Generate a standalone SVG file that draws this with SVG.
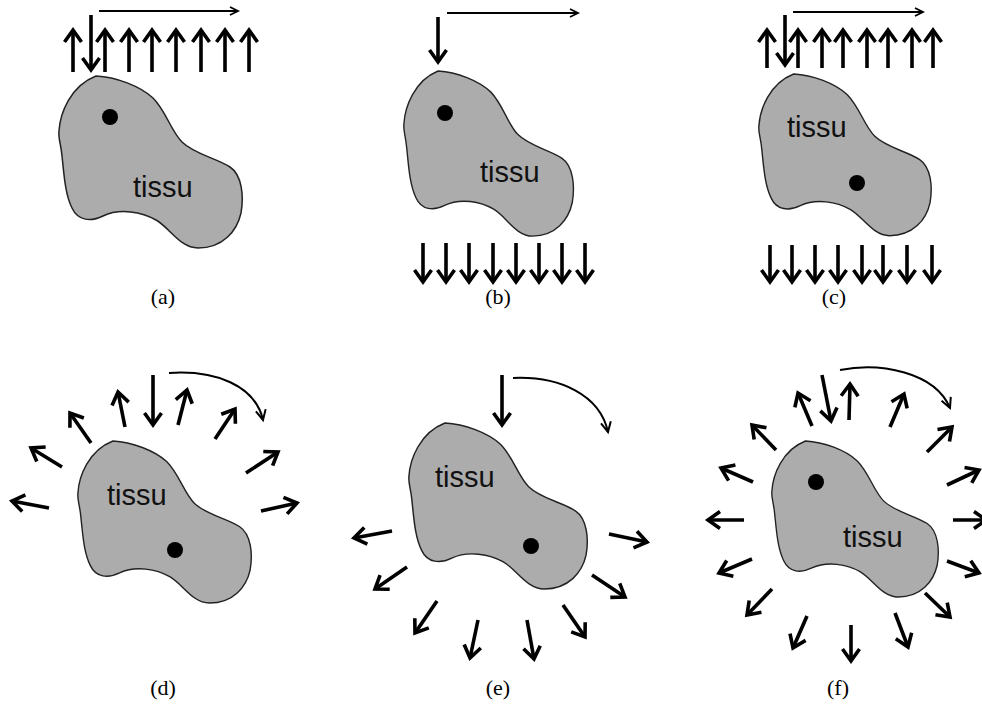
<svg xmlns="http://www.w3.org/2000/svg" width="982" height="713" viewBox="0 0 982 713">
  <style>
    .blob { fill: #acacac; stroke: #222; stroke-width: 1.5; }
    .dot { fill: #000; }
    .tissu { font-family: "Liberation Sans", Arial, sans-serif; font-size: 29px; fill: #111; }
    .lbl { font-family: "Liberation Serif", "Times New Roman", serif; font-size: 22px; fill: #000; text-anchor: middle; }
    .thick { stroke: #000; stroke-width: 3.6; fill: none; marker-end: url(#hd); }
    .thin { stroke: #000; stroke-width: 1.8; fill: none; marker-end: url(#hs); }
    .curve { stroke: #000; stroke-width: 2; fill: none; marker-end: url(#hc); }
  </style>
  <defs>
    <!-- tissue outline, shared by all six panels -->
    <path id="tissue" d="M38,0 C58,1 82,10 95,22 C108,35 113,55 124,66 C136,78 158,82 172,91 C184,99 186,120 183,137 C179,155 165,172 140,172 C122,172 112,152 98,144 C84,136 62,132 45,140 C33,146 20,145 14,132 C7,118 6,98 4,80 C3,68 0,62 1,55 C2,38 12,10 38,0 Z"/>
    <marker id="hd" markerUnits="userSpaceOnUse" orient="auto" overflow="visible" markerWidth="1" markerHeight="1">
      <path d="M-12,-8.5 L0,0 L-12,8.5" fill="none" stroke="#000" stroke-width="3.6"/>
    </marker>
    <marker id="hs" markerUnits="userSpaceOnUse" orient="auto" overflow="visible" markerWidth="1" markerHeight="1">
      <path d="M-8,-4 L0,0 L-8,4" fill="none" stroke="#000" stroke-width="1.8"/>
    </marker>
    <marker id="hc" markerUnits="userSpaceOnUse" orient="auto" overflow="visible" markerWidth="1" markerHeight="1">
      <path d="M-10,-5 L0,0 L-10,5" fill="none" stroke="#000" stroke-width="2"/>
    </marker>
  </defs>

  <!-- (a) -->
  <g id="panel-a">
    <use href="#tissue" class="blob" transform="translate(58,76)"/>
    <circle class="dot" cx="110" cy="117" r="8"/>
    <text class="tissu" x="133" y="197">tissu</text>
    <text class="lbl" x="163" y="304">(a)</text>
  </g>
  <!-- (b) -->
  <g id="panel-b">
    <use href="#tissue" class="blob" transform="translate(403,71) scale(0.925,0.96)"/>
    <circle class="dot" cx="445" cy="113" r="8"/>
    <text class="tissu" x="480" y="182">tissu</text>
    <text class="lbl" x="498" y="304">(b)</text>
  </g>
  <!-- (c) -->
  <g id="panel-c">
    <use href="#tissue" class="blob" transform="translate(758,74) scale(0.94,0.94)"/>
    <circle class="dot" cx="857" cy="183" r="8"/>
    <text class="tissu" x="787" y="137">tissu</text>
    <text class="lbl" x="834" y="304">(c)</text>
  </g>
  <!-- (d) -->
  <g id="panel-d">
    <use href="#tissue" class="blob" transform="translate(77,441) scale(0.946,0.942)"/>
    <circle class="dot" cx="175" cy="550" r="8"/>
    <text class="tissu" x="107" y="505">tissu</text>
    <text class="lbl" x="163" y="695">(d)</text>
  </g>
  <!-- (e) -->
  <g id="panel-e">
    <use href="#tissue" class="blob" transform="translate(408,423) scale(0.973,0.965)"/>
    <circle class="dot" cx="531" cy="546" r="8"/>
    <text class="tissu" x="435" y="487">tissu</text>
    <text class="lbl" x="498" y="695">(e)</text>
  </g>
  <!-- (f) -->
  <g id="panel-f">
    <use href="#tissue" class="blob" transform="translate(771,441) scale(0.908,0.907)"/>
    <circle class="dot" cx="816" cy="482" r="8"/>
    <text class="tissu" x="843" y="547">tissu</text>
    <text class="lbl" x="838" y="695">(f)</text>
  </g>

  <g id="arrows">
    <!-- (a) -->
    <line class="thick" x1="73" y1="72" x2="73" y2="30"/>
    <line class="thick" x1="105" y1="72" x2="105" y2="30"/>
    <line class="thick" x1="129" y1="72" x2="129" y2="30"/>
    <line class="thick" x1="152" y1="72" x2="152" y2="30"/>
    <line class="thick" x1="176" y1="72" x2="176" y2="30"/>
    <line class="thick" x1="201" y1="72" x2="201" y2="30"/>
    <line class="thick" x1="225" y1="72" x2="225" y2="30"/>
    <line class="thick" x1="249" y1="72" x2="249" y2="30"/>
    <line class="thick" x1="91" y1="15" x2="91" y2="70" stroke-width="3"/>
    <line class="thin" x1="99" y1="11" x2="238" y2="11"/>

    <!-- (b) -->
    <line class="thick" x1="438" y1="17" x2="438" y2="62" stroke-width="3"/>
    <line class="thin" x1="447" y1="13" x2="578" y2="13"/>
    <line class="thick" x1="423" y1="243" x2="423" y2="282"/>
    <line class="thick" x1="446" y1="243" x2="446" y2="282"/>
    <line class="thick" x1="469" y1="243" x2="469" y2="282"/>
    <line class="thick" x1="493" y1="243" x2="493" y2="282"/>
    <line class="thick" x1="516" y1="243" x2="516" y2="282"/>
    <line class="thick" x1="539" y1="243" x2="539" y2="282"/>
    <line class="thick" x1="562" y1="243" x2="562" y2="282"/>
    <line class="thick" x1="585" y1="243" x2="585" y2="282"/>

    <!-- (c) -->
    <line class="thick" x1="767" y1="68" x2="767" y2="30"/>
    <line class="thick" x1="798" y1="68" x2="798" y2="30"/>
    <line class="thick" x1="822" y1="68" x2="822" y2="30"/>
    <line class="thick" x1="843" y1="68" x2="843" y2="30"/>
    <line class="thick" x1="867" y1="68" x2="867" y2="30"/>
    <line class="thick" x1="888" y1="68" x2="888" y2="30"/>
    <line class="thick" x1="912" y1="68" x2="912" y2="30"/>
    <line class="thick" x1="933" y1="68" x2="933" y2="30"/>
    <line class="thick" x1="785" y1="15" x2="785" y2="65" stroke-width="3"/>
    <line class="thin" x1="793" y1="12" x2="923" y2="12"/>
    <line class="thick" x1="770" y1="245" x2="770" y2="282"/>
    <line class="thick" x1="792" y1="245" x2="792" y2="282"/>
    <line class="thick" x1="815" y1="245" x2="815" y2="282"/>
    <line class="thick" x1="838" y1="245" x2="838" y2="282"/>
    <line class="thick" x1="862" y1="245" x2="862" y2="282"/>
    <line class="thick" x1="883" y1="245" x2="883" y2="282"/>
    <line class="thick" x1="907" y1="245" x2="907" y2="282"/>
    <line class="thick" x1="932" y1="245" x2="932" y2="282"/>

    <!-- (d) -->
    <line class="thick" x1="49" y1="508" x2="12" y2="501"/>
    <line class="thick" x1="62" y1="467" x2="31" y2="448"/>
    <line class="thick" x1="91" y1="443" x2="70" y2="413"/>
    <line class="thick" x1="125" y1="427" x2="118" y2="392"/>
    <line class="thick" x1="153" y1="375" x2="153" y2="425" stroke-width="3"/>
    <line class="thick" x1="178" y1="425" x2="187" y2="390"/>
    <line class="thick" x1="215" y1="439" x2="235" y2="409"/>
    <line class="thick" x1="246" y1="473" x2="278" y2="452"/>
    <line class="thick" x1="261" y1="511" x2="297" y2="503"/>
    <path class="curve" d="M169,373 C215,370 255,385 263,420"/>

    <!-- (e) -->
    <line class="thick" x1="502" y1="375" x2="502" y2="425" stroke-width="3"/>
    <path class="curve" d="M513,378 C560,376 600,395 608,432"/>
    <line class="thick" x1="392" y1="531" x2="354" y2="538"/>
    <line class="thick" x1="407" y1="567" x2="375" y2="589"/>
    <line class="thick" x1="437" y1="601" x2="415" y2="633"/>
    <line class="thick" x1="478" y1="620" x2="470" y2="658"/>
    <line class="thick" x1="527" y1="620" x2="534" y2="659"/>
    <line class="thick" x1="563" y1="605" x2="585" y2="637"/>
    <line class="thick" x1="592" y1="575" x2="625" y2="597"/>
    <line class="thick" x1="609" y1="534" x2="647" y2="542"/>

    <!-- (f) -->
    <line class="thick" x1="822" y1="375" x2="831" y2="421" stroke-width="3"/>
    <path class="curve" d="M840,370 C880,362 935,372 950,408"/>
    <line class="thick" x1="849" y1="420" x2="850" y2="384"/>
    <line class="thick" x1="812" y1="426" x2="798" y2="393"/>
    <line class="thick" x1="890" y1="427" x2="904" y2="394"/>
    <line class="thick" x1="927" y1="452" x2="952" y2="427"/>
    <line class="thick" x1="947" y1="485" x2="979" y2="470"/>
    <line class="thick" x1="776" y1="450" x2="752" y2="425"/>
    <line class="thick" x1="753" y1="482" x2="721" y2="468"/>
    <line class="thick" x1="744" y1="520" x2="708" y2="520"/>
    <line class="thick" x1="752" y1="559" x2="719" y2="573"/>
    <line class="thick" x1="772" y1="589" x2="747" y2="615"/>
    <line class="thick" x1="807" y1="616" x2="793" y2="648"/>
    <line class="thick" x1="851" y1="625" x2="851" y2="661"/>
    <line class="thick" x1="895" y1="613" x2="908" y2="647"/>
    <line class="thick" x1="925" y1="593" x2="950" y2="617"/>
    <line class="thick" x1="947" y1="561" x2="979" y2="573"/>
    <line class="thick" x1="953" y1="520" x2="986" y2="520"/>
  </g>
</svg>
